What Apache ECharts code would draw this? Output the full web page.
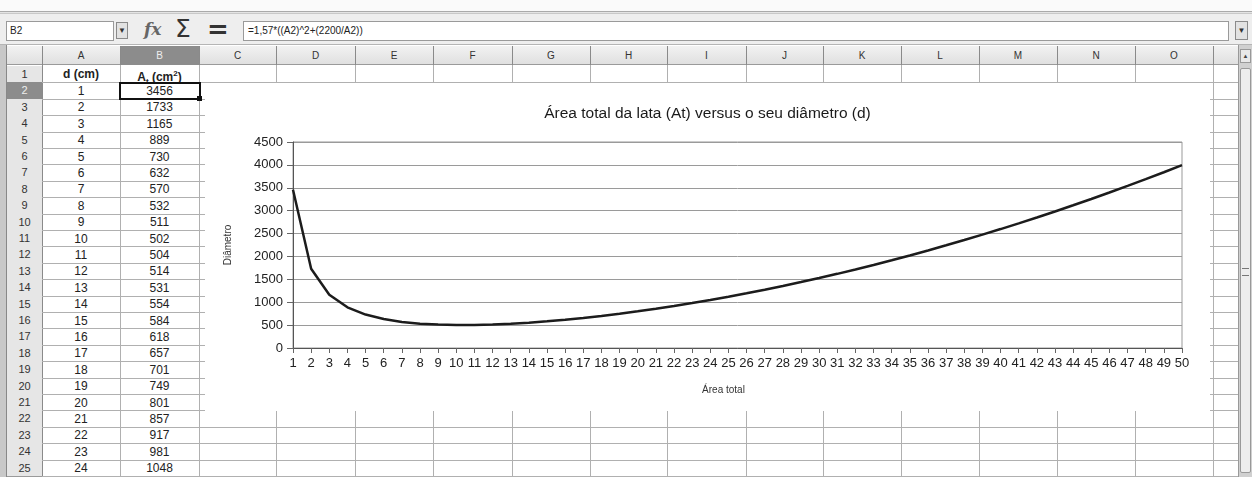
<!DOCTYPE html>
<html><head><meta charset="utf-8">
<script src="https://cdn.jsdelivr.net/npm/echarts@6/dist/echarts.min.js"></script>
<style>
html,body{margin:0;padding:0;background:#fff;}
#page{position:relative;width:1252px;height:477px;overflow:hidden;background:#fff;font-family:"Liberation Sans",Arial,sans-serif;}
.abs{position:absolute;box-sizing:border-box;}
.cell{position:absolute;text-align:center;font-size:12px;color:#222;line-height:16px;}
.hcell{position:absolute;text-align:center;font-size:10px;color:#333;line-height:19px;}
.rnum{position:absolute;text-align:center;font-size:11px;color:#333;line-height:16px;}
</style></head>
<body><div id="page"></div>
<script>
// ---------- data ----------
const diameters = [1,2,3,4,5,6,7,8,9,10,11,12,13,14,15,16,17,18,19,20,21,22,23,24,25,26,27,28,29,30,31,32,33,34,35,36,37,38,39,40,41,42,43,44,45,46,47,48,49,50];
const areas = [3456,1733,1165,889,730,632,570,532,511,502,504,514,531,554,584,618,657,701,749,801,857,917,981,1048,1119,1194,1273,1354,1440,1528,1620,1716,1814,1917,2022,2131,2243,2358,2477,2598,2723,2852,2983,3118,3256,3397,3542,3689,3840,3994];
const tableRowCount = 24;
const columnLetters = ['A','B','C','D','E','F','G','H','I','J','K','L','M','N','O'];
const headerA = 'd (cm)';
const headerB = 'A<sub style="font-size:8px">t</sub> (cm<sup style="font-size:8px">2</sup>)';
const nameBoxText = 'B2';
const formulaText = '=1,57*((A2)^2+(2200/A2))';
const chartTitle = 'Área total da lata (At) versus o seu diâmetro (d)';
const xAxisTitle = 'Área total';
const yAxisTitle = 'Diâmetro';

// ---------- spreadsheet layout ----------
const page = document.getElementById('page');
function el(css, html, cls){ const d=document.createElement('div'); d.className=cls||'abs'; d.style.cssText=css; if(html!==undefined) d.innerHTML=html; page.appendChild(d); return d; }

const colX = [42,120,199,276,355,433,512,590,667,746,823,901,979,1057,1135,1213,1238];
const rowTop = i => 66 + (i-1)*16.4;   // i = 1..26
const headTop = 46, headBot = 65;

// top bar
el('left:0;top:0;width:1252px;height:11px;background:#fafafa;');
el('left:0;top:11px;width:1252px;height:3px;border-top:1px solid #aaa;border-bottom:1px solid #c8c8c8;background:#e4e4e4;');
el('left:0;top:14px;width:1252px;height:31px;background:#eeeeee;border-bottom:1px solid #b5b5b5;');
// name box
el('left:6px;top:21px;width:108px;height:20px;background:#fff;border:1px solid #9a9a9a;font-size:10px;line-height:18px;padding-left:3px;color:#222;', nameBoxText);
el('left:116px;top:22px;width:12px;height:17px;background:#e2e2e2;border:1px solid #8a8a8a;font-size:8px;line-height:15px;text-align:center;color:#333;', '▼');
// icons
el('left:144px;top:17px;width:24px;height:24px;font-family:"DejaVu Serif",serif;font-style:italic;font-weight:bold;font-size:17px;line-height:24px;color:#666;', 'fx');
el('left:175px;top:15px;width:22px;height:28px;font-family:"DejaVu Sans",sans-serif;font-size:25px;line-height:28px;color:#333;', 'Σ');
el('left:207px;top:15px;width:22px;height:28px;font-family:"DejaVu Sans",sans-serif;font-weight:bold;font-size:26px;line-height:28px;color:#333;', '=');
// formula box
el('left:243px;top:21px;width:986px;height:20px;background:#fff;border:1px solid #9a9a9a;font-size:10px;line-height:18px;padding-left:4px;color:#222;', formulaText);
el('left:1235px;top:21px;width:13px;height:19px;background:#e2e2e2;border:1px solid #8a8a8a;font-size:8px;line-height:17px;text-align:center;color:#333;', '▼');

// left dark edge
el('left:0;top:45px;width:7px;height:432px;background:#c8c8c8;border-right:1px solid #888;');

// column header row
el('left:7px;top:'+headTop+'px;width:1231px;height:'+(headBot-headTop)+'px;background:linear-gradient(#f2f2f2,#e0e0e0);border-bottom:1px solid #9a9a9a;');
for(let c=0;c<columnLetters.length;c++){
  const x0=colX[c], x1=colX[c+1];
  const sel = (c===1);
  el('left:'+x0+'px;top:'+headTop+'px;width:'+(x1-x0)+'px;height:'+(headBot-headTop)+'px;'+(sel?'background:#8c8c8c;color:#eee;':'color:#333;'), columnLetters[c], 'hcell');
}
for(let c=0;c<colX.length;c++){
  el('left:'+colX[c]+'px;top:'+headTop+'px;width:1px;height:'+(headBot-headTop)+'px;background:#8a8a8a;');
}

// row headers
for(let r=1;r<=25;r++){
  const y0=rowTop(r), y1=rowTop(r+1);
  const sel=(r===2);
  el('left:7px;top:'+y0+'px;width:35px;height:'+(y1-y0)+'px;'+(sel?'background:#8c8c8c;color:#eee;':'background:#e6e6e6;color:#333;'), String(r), 'rnum');
  el('left:7px;top:'+y1+'px;width:35px;height:1px;background:#9a9a9a;');
}
el('left:42px;top:'+headTop+'px;width:1px;height:431px;background:#8a8a8a;');

// cell grid lines
for(let r=1;r<=25;r++){
  el('left:42px;top:'+rowTop(r+1)+'px;width:1196px;height:1px;background:#b0b0b0;');
}
for(let c=1;c<colX.length;c++){
  el('left:'+colX[c]+'px;top:'+headBot+'px;width:1px;height:412px;background:#b0b0b0;');
}

// cell contents
el('left:42px;top:'+rowTop(1)+'px;width:78px;height:16px;font-weight:bold;', headerA, 'cell');
el('left:120px;top:'+rowTop(1)+'px;width:79px;height:16px;font-weight:bold;', headerB, 'cell');
for(let i=0;i<tableRowCount;i++){
  const r=i+2;
  el('left:42px;top:'+(rowTop(r)+0.5)+'px;width:78px;height:16px;', String(diameters[i]), 'cell');
  el('left:120px;top:'+(rowTop(r)+0.5)+'px;width:79px;height:16px;', String(areas[i]), 'cell');
}
// selected cell B2
el('left:119px;top:'+(rowTop(2)-0.5)+'px;width:82px;height:18px;border:2px solid #111;');
el('left:197px;top:'+(rowTop(3)-2.5)+'px;width:5px;height:5px;background:#111;');

// scrollbar
el('left:1238px;top:45px;width:14px;height:432px;background:#d0d0d0;border-left:1px solid #999;');
el('left:1240px;top:49px;width:11px;height:14px;background:#e8e8e8;border:1px solid #999;font-size:6px;text-align:center;line-height:12px;color:#444;','▲');
el('left:1240px;top:68px;width:11px;height:405px;background:#ededed;border:1px solid #999;border-radius:2px;');
el('left:1242px;top:268px;width:7px;height:8px;border-top:1px solid #777;border-bottom:1px solid #777;');

// chart container
const chartDiv = el('left:205px;top:83px;width:1005px;height:328px;background:#fff;z-index:5;');

// ---------- chart ----------
const chart = echarts.init(chartDiv, null, {renderer:'canvas'});
const ff = '"Liberation Sans", Arial, sans-serif';
chart.setOption({
  animation:false,
  backgroundColor:'#fff',
  title:{text:chartTitle,left:'center',top:18,textStyle:{fontFamily:ff,fontSize:15.5,fontWeight:'normal',color:'#1a1a1a'}},
  grid:{left:88,right:28,top:59,bottom:63,show:true,borderColor:'#999',borderWidth:1},
  xAxis:{
    type:'category',data:diameters,boundaryGap:false,
    name:xAxisTitle,nameLocation:'middle',nameGap:37,
    nameTextStyle:{fontFamily:ff,fontSize:10,color:'#333',padding:[0,28,0,0]},
    axisLine:{lineStyle:{color:'#555',width:1}},
    axisTick:{alignWithLabel:true,interval:0,length:5,lineStyle:{color:'#666'}},
    axisLabel:{interval:0,fontFamily:ff,fontSize:13,color:'#222',margin:9},
    splitLine:{show:false}
  },
  yAxis:{
    type:'value',min:0,max:4500,interval:500,
    name:yAxisTitle,nameLocation:'middle',nameGap:60,
    nameTextStyle:{fontFamily:ff,fontSize:10,color:'#333'},
    axisLine:{show:true,lineStyle:{color:'#555',width:1}},
    axisTick:{show:true,length:6,lineStyle:{color:'#666'}},
    axisLabel:{fontFamily:ff,fontSize:13,color:'#222',margin:10,formatter:function(v){return String(v);}},
    splitLine:{lineStyle:{color:'#9a9a9a',width:1}}
  },
  series:[{
    type:'line',data:areas,showSymbol:false,smooth:false,
    lineStyle:{color:'#1c1c1c',width:2.5}
  }]
});
</script>
</body></html>
